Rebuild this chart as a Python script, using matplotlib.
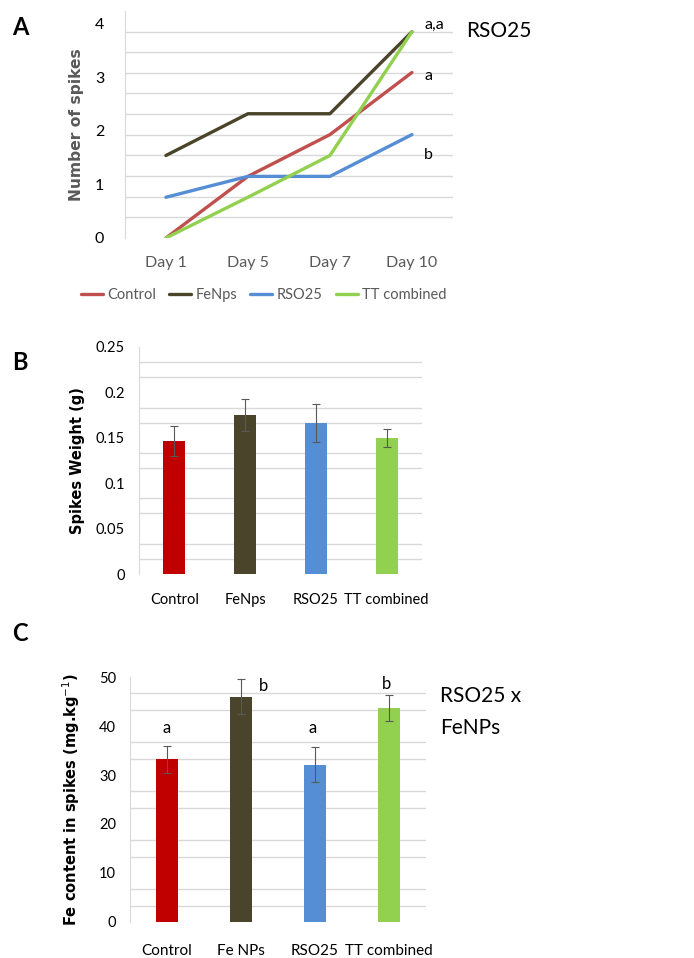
import numpy as np
import matplotlib
matplotlib.use('Agg')
import matplotlib.pyplot as plt
from matplotlib.ticker import FixedLocator

plt.rcParams['font.family'] = ['Lato', 'DejaVu Sans']

# panel A - number of spikes
days = ['Day 1', 'Day 5', 'Day 7', 'Day 10']
series_names = ['Control', 'FeNps', 'RSO25', 'TT combined']
control_spikes = [0, 1.15, 1.93, 3.09]
fenps_spikes = [1.54, 2.32, 2.32, 3.85]
rso_spikes = [0.76, 1.15, 1.15, 1.93]
tt_spikes = [0, 0.76, 1.54, 3.85]
line_colors = ['#C0504D', '#4A452A', '#558ED5', '#92D050']

# panel B - spikes weight
weight_groups = ['Control', 'FeNps', 'RSO25', 'TT combined']
weight_vals = [0.147, 0.175, 0.166, 0.150]
weight_err = [0.0165, 0.018, 0.021, 0.010]

# panel C - Fe content
fe_groups = ['Control', 'Fe NPs', 'RSO25', 'TT combined']
fe_vals = [33.2, 46.0, 32.1, 43.7]
fe_err = [2.7, 3.6, 3.6, 2.6]
fe_letters = ['a', 'b', 'a', 'b']

bar_colors = ['#C00000', '#4A452A', '#558ED5', '#92D050']
grid_c = '#D9D9D9'

fig = plt.figure(figsize=(6.94, 9.58), dpi=100)

# ---------------- A ----------------
axA = fig.add_axes([0.180, 0.7516, 0.4726, 0.237])
x = np.arange(len(days))
for vals, name, c in zip([control_spikes, fenps_spikes, rso_spikes, tt_spikes], series_names, line_colors):
    axA.plot(x, vals, color=c, lw=2.4, label=name, solid_capstyle='round', solid_joinstyle='round')
axA.set_xlim(-0.5, 3.5)
axA.set_ylim(0, 4.24)
axA.set_xticks(x)
axA.set_xticklabels(days, color='#595959', fontsize=11.5)
axA.set_yticks([0, 1, 2, 3, 4])
axA.set_yticklabels(['0', '1', '2', '3', '4'], fontsize=11.5)
axA.yaxis.set_minor_locator(FixedLocator(np.arange(12) * 0.3855))
axA.grid(True, which='minor', axis='y', color=grid_c, lw=1)
axA.tick_params(which='both', length=0)
axA.tick_params(axis='x', pad=13)
axA.tick_params(axis='y', pad=15)
for s in ['top', 'right', 'bottom']:
    axA.spines[s].set_visible(False)
axA.spines['left'].set_color(grid_c)
axA.set_ylabel('Number of spikes', fontsize=11.2, fontweight='bold', color='#595959',
               family='DejaVu Sans', labelpad=8)
axA.text(3.15, 3.97, 'a,a', fontsize=11.5, va='center')
axA.text(3.15, 3.02, 'a', fontsize=11.5, va='center')
axA.text(3.15, 1.55, 'b', fontsize=11.5, va='center')
fig.text(0.672, 0.968, 'RSO25', fontsize=15, va='center')
fig.text(0.018, 0.971, 'A', fontsize=17, fontweight='bold', va='center')
leg = fig.legend(*axA.get_legend_handles_labels(), loc='center', bbox_to_anchor=(0.380, 0.692),
                 ncol=4, frameon=False, fontsize=10.5, handlelength=1.5, handletextpad=0.3,
                 columnspacing=0.9)
for t in leg.get_texts():
    t.set_color('#595959')

# ---------------- B ----------------
axB = fig.add_axes([0.2003, 0.4008, 0.4078, 0.237])
xb = np.arange(len(weight_groups))
axB.bar(xb, weight_vals, width=0.31, color=bar_colors, zorder=3)
axB.errorbar(xb, weight_vals, yerr=weight_err, fmt='none', ecolor='#595959', elinewidth=0.8,
             capsize=3, capthick=0.8, zorder=4)
axB.set_xlim(-0.5, 3.5)
axB.set_ylim(0, 0.25)
axB.set_yticks([0, 0.05, 0.1, 0.15, 0.2, 0.25])
axB.set_yticklabels(['0', '0.05', '0.1', '0.15', '0.2', '0.25'], fontsize=10.5)
axB.yaxis.set_minor_locator(FixedLocator(np.arange(16) * 0.25 / 15))
axB.grid(True, which='minor', axis='y', color=grid_c, lw=1, zorder=0)
axB.set_xticks(xb)
axB.set_xticklabels(weight_groups, fontsize=10.5)
axB.tick_params(which='both', length=0)
axB.tick_params(axis='x', pad=14)
axB.tick_params(axis='y', pad=10)
for s in ['top', 'right', 'bottom']:
    axB.spines[s].set_visible(False)
axB.spines['left'].set_color(grid_c)
axB.set_ylabel('Spikes Weight (g)', fontsize=10.5, fontweight='bold', family='DejaVu Sans', labelpad=8)
fig.text(0.018, 0.622, 'B', fontsize=17, fontweight='bold', va='center')

# ---------------- C ----------------
axC = fig.add_axes([0.1873, 0.0376, 0.4265, 0.2557])
xc = np.arange(len(fe_groups))
axC.bar(xc, fe_vals, width=0.29, color=bar_colors, zorder=3)
axC.errorbar(xc, fe_vals, yerr=fe_err, fmt='none', ecolor='#595959', elinewidth=0.8,
             capsize=3, capthick=0.8, zorder=4)
axC.set_xlim(-0.5, 3.5)
axC.set_ylim(0, 50)
axC.set_yticks([0, 10, 20, 30, 40, 50])
axC.set_yticklabels(['0', '10', '20', '30', '40', '50'], fontsize=10.5)
axC.yaxis.set_minor_locator(FixedLocator(np.arange(16) * 50 / 15))
axC.grid(True, which='minor', axis='y', color=grid_c, lw=1, zorder=0)
axC.set_xticks(xc)
axC.set_xticklabels(fe_groups, fontsize=11)
axC.tick_params(which='both', length=0)
axC.tick_params(axis='x', pad=16)
axC.tick_params(axis='y', pad=10)
for s in ['top', 'right', 'bottom']:
    axC.spines[s].set_visible(False)
axC.spines['left'].set_color(grid_c)
axC.set_ylabel('Fe content in spikes (mg.kg$^{-1}$)', fontsize=10.5, fontweight='bold',
               family='DejaVu Sans', labelpad=12)
letter_pos = [(0.0, 39.6), (1.3, 48.1), (1.97, 39.6), (2.96, 48.6)]
for (lx, ly), lt in zip(letter_pos, fe_letters):
    axC.text(lx, ly, lt, fontsize=12, ha='center', va='center')
fig.text(0.634, 0.273, 'RSO25 x', fontsize=15, va='center')
fig.text(0.634, 0.240, 'FeNPs', fontsize=15, va='center')
fig.text(0.018, 0.339, 'C', fontsize=17, fontweight='bold', va='center')

fig.savefig('out.png', dpi=100, facecolor='white')
